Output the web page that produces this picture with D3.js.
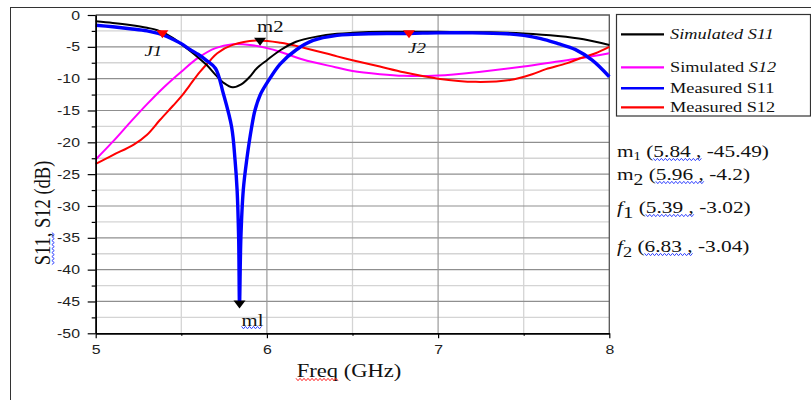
<!DOCTYPE html>
<html>
<head>
<meta charset="utf-8">
<script src="https://cdn.jsdelivr.net/npm/d3@7"></script>
<style>
  html, body { margin: 0; padding: 0; background: #fff; }
  svg { display: block; }
  .serif { font-family: "Liberation Serif", "Times New Roman", serif; fill: #111; }
  .tick text { font-family: "Liberation Sans", Arial, sans-serif; font-size: 13px; fill: #222; }
</style>
</head>
<body>
<svg id="chart"></svg>
<script>
// ---- chart data ----
const xTicks = [5, 6, 7, 8];
const xMinorTicks = [5.5, 6.5, 7.5];
const yTicks = [0, -5, -10, -15, -20, -25, -30, -35, -40, -45, -50];
const yMinorTicks = [-2.5, -7.5, -12.5, -17.5, -22.5, -27.5, -32.5, -37.5, -42.5, -47.5];

const simS11Freq = [5.0, 5.1, 5.2, 5.3, 5.36, 5.45, 5.5, 5.55, 5.6, 5.65, 5.7, 5.75, 5.8, 5.85, 5.9, 5.94, 6.0, 6.08, 6.17, 6.29, 6.41, 6.5, 6.7, 7.0, 7.3, 7.5, 7.7, 7.85, 8.0];
const simS11Db   = [-1.0, -1.25, -1.57, -2.0, -2.4, -3.6, -4.6, -5.6, -6.7, -7.9, -9.4, -10.7, -11.35, -10.9, -9.7, -8.4, -7.1, -5.5, -4.2, -3.4, -2.95, -2.8, -2.65, -2.65, -2.7, -2.9, -3.3, -3.8, -4.7];

const simS12Freq = [5.0, 5.1, 5.2, 5.3, 5.4, 5.5, 5.6, 5.7, 5.8, 5.9, 6.0, 6.08, 6.21, 6.4, 6.5, 6.66, 6.8, 7.0, 7.25, 7.5, 7.7, 7.83, 8.0];
const simS12Db   = [-22.7, -19.9, -16.9, -14.0, -11.3, -8.9, -6.7, -5.2, -4.6, -4.7, -5.2, -5.8, -7.0, -8.2, -8.8, -9.3, -9.55, -9.5, -8.9, -8.1, -7.3, -6.8, -6.0];

const measS11Freq = [5.0, 5.1, 5.2, 5.3, 5.4, 5.45, 5.5, 5.55, 5.6, 5.65, 5.7, 5.745, 5.794, 5.814, 5.826, 5.835, 5.84, 5.848, 5.862, 5.882, 5.911, 5.93, 5.96, 6.0, 6.077, 6.17, 6.27, 6.41, 6.5, 6.7, 6.83, 7.0, 7.2, 7.4, 7.5, 7.6, 7.7, 7.8, 7.9, 8.0];
const measS11Db   = [-1.6, -1.85, -2.15, -2.5, -3.2, -3.8, -4.5, -5.4, -6.2, -7.2, -8.4, -12.3, -17.6, -22.8, -27.5, -35, -45.49, -35, -27.5, -22.8, -17.6, -15.0, -12.6, -10.7, -7.7, -5.5, -4.0, -3.2, -3.05, -2.9, -2.9, -2.8, -2.8, -2.95, -3.2, -3.7, -4.5, -5.4, -7.1, -9.7];

const measS12Freq = [5.0, 5.1, 5.22, 5.3, 5.375, 5.45, 5.5, 5.55, 5.61, 5.67, 5.71, 5.8, 5.94, 6.08, 6.21, 6.41, 6.5, 6.66, 6.8, 7.0, 7.22, 7.42, 7.55, 7.63, 7.75, 7.83, 7.92, 8.0];
const measS12Db   = [-23.4, -22.0, -20.4, -18.8, -16.5, -14.3, -12.8, -11.0, -8.9, -7.1, -6.0, -4.7, -4.0, -4.35, -5.1, -6.5, -7.1, -8.1, -9.0, -10.0, -10.5, -10.2, -9.3, -8.5, -7.6, -6.8, -6.0, -5.0];

const seriesNames = ['Simulated S11', 'Simulated S12', 'Measured S11', 'Measured S12'];
const seriesColors = ['#000000', '#ff00ff', '#0000ff', '#ff0000'];

const markerLabels = ['ml', 'm2', 'J1', 'J2'];
const markerFreq = [5.84, 5.96, 5.39, 6.83];
const markerDb = [-45.49, -4.2, -3.02, -3.04];
const noteNames = ['m', 'm', 'f', 'f'];
const noteSubs = ['1', '2', '1', '2'];

// ---- layout ----
const W = 811, H = 400;
const S = 1.22; // the source picture is stretched sideways, text too
const plot = {left: 95.7, right: 609.3, top: 15, bottom: 333.3};

const svg = d3.select('#chart').attr('width', W).attr('height', H);

// outer frame (runs off the page at right and bottom)
svg.append('rect')
    .attr('x', 10.5).attr('y', 7.5)
    .attr('width', 900).attr('height', 500)
    .attr('fill', 'none').attr('stroke', '#333').attr('stroke-width', 1);

const x = d3.scaleLinear().domain([5, 8]).range([plot.left, plot.right]);
const y = d3.scaleLinear().domain([-50, 0]).range([plot.bottom, plot.top]);

// grid
const grid = svg.append('g');
grid.selectAll('.hminor').data(yMinorTicks).join('line')
    .attr('x1', plot.left).attr('x2', plot.right)
    .attr('y1', d => y(d)).attr('y2', d => y(d))
    .attr('stroke', '#d4d4d4').attr('stroke-width', 1.3);
grid.selectAll('.vminor').data(xMinorTicks).join('line')
    .attr('y1', plot.top).attr('y2', plot.bottom)
    .attr('x1', d => x(d)).attr('x2', d => x(d))
    .attr('stroke', '#d4d4d4').attr('stroke-width', 1.3);
grid.selectAll('.hmajor').data(yTicks.filter(d => d > -50 && d < 0)).join('line')
    .attr('x1', plot.left).attr('x2', plot.right)
    .attr('y1', d => y(d)).attr('y2', d => y(d))
    .attr('stroke', '#8f8f8f').attr('stroke-width', 1.2);
grid.selectAll('.vmajor').data(xTicks.filter(d => d > 5 && d < 8)).join('line')
    .attr('y1', plot.top).attr('y2', plot.bottom)
    .attr('x1', d => x(d)).attr('x2', d => x(d))
    .attr('stroke', '#9a9a9a').attr('stroke-width', 1.2);

// plot frame top/right
svg.append('path')
    .attr('d', `M${plot.left},${y(0)}H${x(8)}V${plot.bottom}`)
    .attr('fill', 'none').attr('stroke', '#555').attr('stroke-width', 1.3);

// curves
const line = d3.line().x(d => x(d[0])).y(d => y(d[1])).curve(d3.curveCatmullRom.alpha(0.5));
const zip = (f, v) => f.map((d, i) => [d, v[i]]);
const series = [
  {data: zip(simS12Freq, simS12Db), color: seriesColors[1], width: 2},
  {data: zip(measS12Freq, measS12Db), color: seriesColors[3], width: 2},
  {data: zip(simS11Freq, simS11Db), color: seriesColors[0], width: 2},
  {data: zip(measS11Freq, measS11Db), color: seriesColors[2], width: 3.4}
];
svg.append('g').selectAll('path').data(series).join('path')
    .attr('d', d => line(d.data))
    .attr('fill', 'none')
    .attr('stroke', d => d.color)
    .attr('stroke-width', d => d.width)
    .attr('stroke-linejoin', 'round');

// axes
const yAxisG = svg.append('g').attr('transform', `translate(${plot.left},0)`)
    .call(d3.axisLeft(y).tickValues(yTicks).tickSize(8).tickSizeOuter(0).tickFormat(d => String(d)));
svg.append('g').attr('transform', `translate(${plot.left},0)`)
    .call(d3.axisLeft(y).tickValues(yMinorTicks).tickSize(4).tickSizeOuter(0).tickFormat(''));
const xAxisG = svg.append('g').attr('transform', `translate(0,${plot.bottom})`)
    .call(d3.axisBottom(x).tickValues(xTicks).tickSize(5).tickSizeOuter(0).tickFormat(d => String(d)));
svg.append('g').attr('transform', `translate(0,${plot.bottom})`)
    .call(d3.axisBottom(x).tickValues(xMinorTicks).tickSize(2.5).tickSizeOuter(0).tickFormat(''));
svg.selectAll('.domain').attr('stroke', '#000').attr('stroke-width', 1.5);
svg.selectAll('.tick line').attr('stroke', '#000').attr('stroke-width', 1.2);
yAxisG.selectAll('.tick text').attr('x', -15.7 / S).attr('transform', `scale(${S},1)`);
xAxisG.selectAll('.tick text').attr('y', 11).attr('transform', `scale(${S},1)`);

// helpers
function stretchText(sel, tx, ty, extra) {
  return sel.append('text')
      .attr('class', 'serif')
      .attr('transform', `translate(${tx},${ty}) scale(${S},1)` + (extra || ''));
}
function wavy(x0, x1, yy, color) {
  const pts = [];
  let up = true;
  for (let xx = x0; xx <= x1; xx += 2) { pts.push([xx, yy + (up ? -1.2 : 1.2)]); up = !up; }
  svg.append('path').attr('d', d3.line()(pts))
      .attr('fill', 'none').attr('stroke', color).attr('stroke-width', 1);
}
function wavyV(xx, y0, y1, color) {
  const pts = [];
  let up = true;
  for (let yy = y0; yy <= y1; yy += 2) { pts.push([xx + (up ? -1.2 : 1.2), yy]); up = !up; }
  svg.append('path').attr('d', d3.line()(pts))
      .attr('fill', 'none').attr('stroke', color).attr('stroke-width', 1);
}

// markers
const markerColors = ['#000', '#000', '#ff0000', '#ff0000'];
const labelOffsets = [[2, 21], [-3, -10], [-18, 22], [-1, 19]];
const labelItalic = [false, false, true, true];
markerFreq.forEach((f, i) => {
  const px = x(f), py = y(markerDb[i]);
  svg.append('path')
      .attr('d', `M${px - 6},${py - 4}L${px + 6},${py - 4}L${px},${py + 4}Z`)
      .attr('fill', markerColors[i]);
  const t = stretchText(svg, px + labelOffsets[i][0], py + labelOffsets[i][1])
      .attr('font-size', labelItalic[i] ? 15.5 : 17)
      .attr('font-style', labelItalic[i] ? 'italic' : 'normal')
      .text(markerLabels[i]);
  if (i === 0) {
    const len = t.node().getComputedTextLength() * S;
    wavy(px + labelOffsets[i][0], px + labelOffsets[i][0] + len, py + labelOffsets[i][1] + 2, '#3344ff');
  }
});

// axis titles
const xt = stretchText(svg, 296.7, 377).attr('font-size', 18.5).text('Freq (GHz)');
wavy(296, 296.7 + xt.node().getSubStringLength(0, 4) * S, 379.5, '#ff2222');

const yt = stretchText(svg, 50, 213, ' rotate(-90)')
    .attr('font-size', 18.5).attr('text-anchor', 'middle').text('S11, S12 (dB)');
{
  const n = yt.node();
  const a = n.getStartPositionOfChar(0).x, b = n.getEndPositionOfChar(3).x;
  wavyV(50 + 2.5 * S, 213 - b, 213 - a, '#3344ff');
}

// legend
svg.append('rect')
    .attr('x', 616.5).attr('y', 14.5).attr('width', 194).attr('height', 101.5)
    .attr('fill', '#fff').attr('stroke', '#333').attr('stroke-width', 1.2);
const legendY = [34.3, 67.3, 88.3, 107.3];
const legendItalicFrom = [0, 10, -1, -1];
seriesNames.forEach((name, i) => {
  svg.append('line')
      .attr('x1', 621).attr('x2', 664)
      .attr('y1', legendY[i]).attr('y2', legendY[i])
      .attr('stroke', seriesColors[i]).attr('stroke-width', i === 2 ? 2.6 : 2.2);
  const t = stretchText(svg, 670, legendY[i] + 5).attr('font-size', 15);
  const k = legendItalicFrom[i];
  if (k < 0) t.text(name);
  else {
    if (k > 0) t.append('tspan').text(name.slice(0, k));
    t.append('tspan').attr('font-style', 'italic').text(name.slice(k));
  }
});

// marker value notes
const noteY = [157, 180, 213, 252];
const subSize = [12, 16, 17, 15];
const subShift = [3, 5, 5, 5];
noteNames.forEach((nm, i) => {
  const t = stretchText(svg, 617, noteY[i]).attr('font-size', 17.5);
  t.append('tspan').attr('font-style', nm === 'f' ? 'italic' : 'normal').text(nm);
  t.append('tspan').attr('font-size', subSize[i]).attr('dy', subShift[i]).text(noteSubs[i]);
  t.append('tspan').attr('dy', -subShift[i]).text(` (${markerFreq[i]} , ${markerDb[i]})`);
  const n = t.node();
  const full = n.textContent;
  const s0 = full.indexOf('(') + 1, s1 = full.indexOf(',');
  const a = n.getStartPositionOfChar(s0).x, b = n.getEndPositionOfChar(s1).x;
  wavy(617 + a * S, 617 + b * S, noteY[i] + 2.5, '#3344ff');
});
</script>
</body>
</html>
